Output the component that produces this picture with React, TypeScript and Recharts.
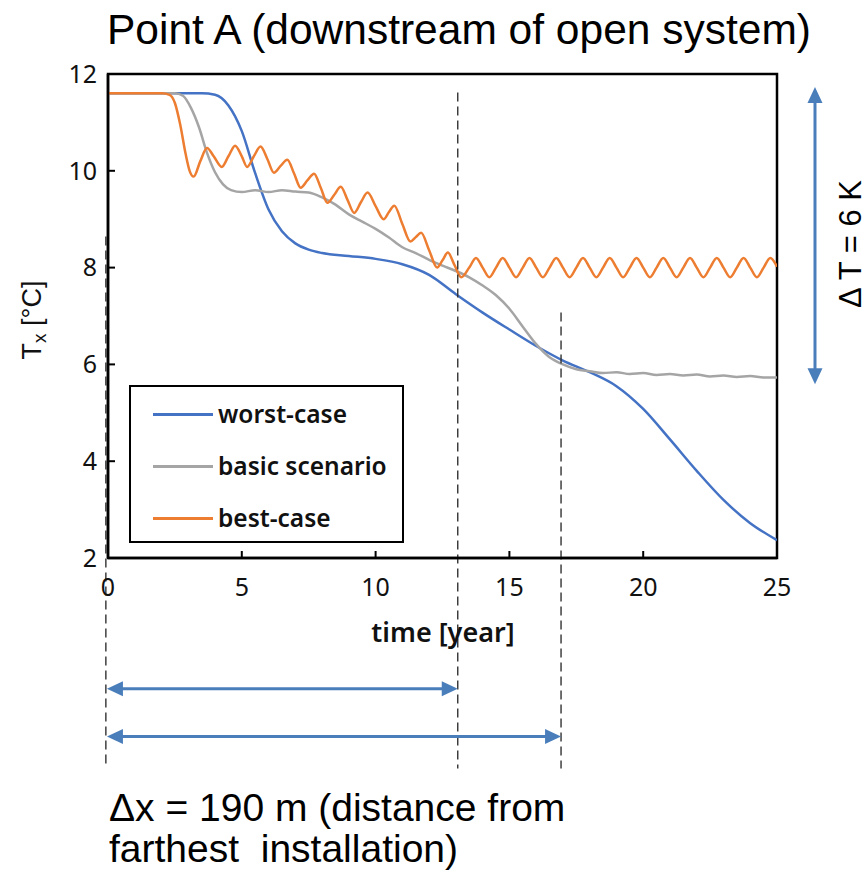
import { LineChart, Line, XAxis, YAxis, ReferenceArea, ReferenceLine } from 'recharts'

// [time in years, temperature in °C]
const worstCase: [number, number][] = [
  [0, 11.6], [3.5, 11.6], [4.0, 11.57], [4.5, 11.35], [5.0, 10.82], [5.5, 9.95],
  [6.0, 9.2], [6.5, 8.75], [7.0, 8.5], [7.5, 8.37], [8.0, 8.3], [9.0, 8.24],
  [10.0, 8.18], [11.0, 8.07], [12.0, 7.85], [13.0, 7.45], [14.0, 7.07], [15.0, 6.72],
  [16.0, 6.38], [17.0, 6.08], [18.0, 5.84], [19.0, 5.55], [20.0, 5.08], [21.0, 4.45],
  [22.0, 3.8], [23.0, 3.2], [24.0, 2.72], [25.0, 2.37],
]

const basicScenario: [number, number][] = [
  [0, 11.6], [2.5, 11.6], [2.8, 11.55], [3.1, 11.3], [3.4, 10.9], [3.7, 10.37],
  [4.0, 9.97], [4.3, 9.72], [4.6, 9.6], [5.0, 9.56], [5.5, 9.6], [6.0, 9.56],
  [6.5, 9.6], [7.0, 9.57], [7.5, 9.55], [8.0, 9.45], [8.5, 9.3], [9.0, 9.1],
  [9.5, 8.95], [10.0, 8.8], [10.5, 8.62], [11.0, 8.42], [11.5, 8.3], [12.0, 8.16],
  [12.5, 8.04], [13.0, 7.93], [13.5, 7.8], [14.0, 7.63], [14.5, 7.43], [15.0, 7.15],
  [15.5, 6.78], [16.0, 6.42], [16.5, 6.15], [17.0, 6.0], [17.5, 5.9], [18.0, 5.86],
  [18.5, 5.82], [19.0, 5.84], [19.5, 5.8], [20.0, 5.82], [20.5, 5.78], [21.0, 5.8],
  [21.5, 5.77], [22.0, 5.79], [22.5, 5.75], [23.0, 5.77], [23.5, 5.74], [24.0, 5.76],
  [24.5, 5.73], [25.0, 5.73],
]

const bestCase: [number, number][] = [
  [0, 11.6], [2.0, 11.6], [2.3, 11.57], [2.5, 11.4], [2.7, 10.95], [2.9, 10.35],
  [3.05, 10.0], [3.2, 9.88], [3.45, 10.2], [3.7, 10.47], [3.95, 10.3], [4.25, 10.08],
  [4.5, 10.3], [4.75, 10.52], [5.0, 10.3], [5.2, 10.08], [5.45, 10.3], [5.7, 10.5],
  [5.95, 10.25], [6.2, 9.96], [6.45, 10.1], [6.7, 10.23], [6.95, 9.95], [7.2, 9.65],
  [7.45, 9.8], [7.7, 9.94], [7.95, 9.65], [8.2, 9.34], [8.45, 9.5], [8.7, 9.67],
  [8.95, 9.4], [9.2, 9.13], [9.45, 9.35], [9.7, 9.55], [10.0, 9.27], [10.3, 9.0],
  [10.5, 9.15], [10.7, 9.28], [11.0, 8.9], [11.3, 8.54], [11.5, 8.63], [11.7, 8.72],
  [12.0, 8.36], [12.3, 8.0], [12.5, 8.15], [12.7, 8.31], [12.95, 8.05], [13.2, 7.8],
  [13.5, 8.0], [13.75, 8.2], [14.0, 8.0], [14.25, 7.8], [14.5, 8.0], [14.75, 8.2],
  [15.0, 8.0], [15.25, 7.8], [15.5, 8.0], [15.75, 8.2], [16.0, 8.0], [16.25, 7.8],
  [16.5, 8.0], [16.75, 8.2], [17.0, 8.0], [17.25, 7.8], [17.5, 8.0], [17.75, 8.2],
  [18.0, 8.0], [18.25, 7.8], [18.5, 8.0], [18.75, 8.2], [19.0, 8.0], [19.25, 7.8],
  [19.5, 8.0], [19.75, 8.2], [20.0, 8.0], [20.25, 7.8], [20.5, 8.0], [20.75, 8.2],
  [21.0, 8.0], [21.25, 7.8], [21.5, 8.0], [21.75, 8.2], [22.0, 8.0], [22.25, 7.8],
  [22.5, 8.0], [22.75, 8.2], [23.0, 8.0], [23.25, 7.8], [23.5, 8.0], [23.75, 8.2],
  [24.0, 8.0], [24.25, 7.8], [24.5, 8.0], [24.75, 8.2], [25.0, 8.02],
]

const xTicks = [0, 5, 10, 15, 20, 25]
const yTicks = [2, 4, 6, 8, 10, 12]

// annotation lines (data units)
const dashedX = [-0.08, 13.07, 16.93]
const dashedTop = [8.64, 11.62, 7.07]
const dashedBottom = -2.35
const spanArrowY = [-0.7, -1.69]
const spanArrowEnd = [13.07, 16.93]
const deltaTX = 26.42
const deltaTRange = [11.73, 5.59]

const BLUE = '#4472C4'
const GRAY = '#A5A5A5'
const ORANGE = '#ED7D31'
const ARROW = '#4A7EBB'

const legendItems = [
  { label: 'worst-case', color: BLUE },
  { label: 'basic scenario', color: GRAY },
  { label: 'best-case', color: ORANGE },
]

const toPoints = (pairs: [number, number][]) => pairs.map(([t, T]) => ({ t, T }))

const tickFont = { fill: '#111', fontSize: 25, fontFamily: '"Noto Sans", sans-serif' }

function ArrowShape(props: any) {
  const { x1, y1, x2, y2 } = props
  const dx = x2 - x1
  const dy = y2 - y1
  const len = Math.hypot(dx, dy) || 1
  const ux = dx / len
  const uy = dy / len
  const head = 16
  const half = 7.5
  const head1 = `${x1},${y1} ${x1 + ux * head - uy * half},${y1 + uy * head + ux * half} ${x1 + ux * head + uy * half},${y1 + uy * head - ux * half}`
  const head2 = `${x2},${y2} ${x2 - ux * head - uy * half},${y2 - uy * head + ux * half} ${x2 - ux * head + uy * half},${y2 - uy * head - ux * half}`
  return (
    <g>
      <line
        x1={x1 + ux * (head - 2)} y1={y1 + uy * (head - 2)}
        x2={x2 - ux * (head - 2)} y2={y2 - uy * (head - 2)}
        stroke={ARROW} strokeWidth={3}
      />
      <polygon points={head1} fill={ARROW} />
      <polygon points={head2} fill={ARROW} />
    </g>
  )
}

export default function App() {
  return (
    <div style={{ position: 'absolute', left: 0, top: 0, width: 867, height: 873, background: '#fff' }}>
      <LineChart width={867} height={873} margin={{ top: 74, right: 90, bottom: 275, left: 48 }}>
        <XAxis
          type="number"
          dataKey="t"
          domain={[0, 25]}
          ticks={xTicks}
          interval={0}
          allowDataOverflow
          height={40}
          axisLine={{ stroke: '#000', strokeWidth: 2.5 }}
          tickLine={{ stroke: '#000', strokeWidth: 2 }}
          tickSize={-7}
          tickMargin={27}
          tick={tickFont}
        />
        <YAxis
          type="number"
          domain={[2, 12]}
          ticks={yTicks}
          interval={0}
          allowDataOverflow
          width={60}
          axisLine={{ stroke: '#000', strokeWidth: 2.5 }}
          tickLine={{ stroke: '#000', strokeWidth: 2 }}
          tickSize={-7}
          tickMargin={18}
          tick={tickFont}
        />
        <ReferenceArea x1={0} x2={25} y1={2} y2={12} fill="none" fillOpacity={0} stroke="#000" strokeWidth={2.5} />

        <Line data={toPoints(worstCase)} dataKey="T" type="monotone" stroke={BLUE} strokeWidth={2.5} dot={false} isAnimationActive={false} />
        <Line data={toPoints(basicScenario)} dataKey="T" type="monotone" stroke={GRAY} strokeWidth={2.5} dot={false} isAnimationActive={false} />
        <Line data={toPoints(bestCase)} dataKey="T" type="monotone" stroke={ORANGE} strokeWidth={2.5} dot={false} isAnimationActive={false} />

        {dashedX.map((x, i) => (
          <ReferenceLine
            key={`d${i}`}
            segment={[{ x, y: dashedTop[i] }, { x, y: dashedBottom }]}
            stroke="#333"
            strokeWidth={1.4}
            strokeDasharray="9 5"
            ifOverflow="visible"
          />
        ))}
        {spanArrowY.map((y, i) => (
          <ReferenceLine
            key={`a${i}`}
            segment={[{ x: -0.04, y }, { x: spanArrowEnd[i], y }]}
            ifOverflow="visible"
            shape={ArrowShape}
          />
        ))}
        <ReferenceLine
          segment={[{ x: deltaTX, y: deltaTRange[0] }, { x: deltaTX, y: deltaTRange[1] }]}
          ifOverflow="visible"
          shape={ArrowShape}
        />
      </LineChart>

      <svg width={867} height={873} style={{ position: 'absolute', left: 0, top: 0, pointerEvents: 'none' }}>
        <text x={459} y={44} textAnchor="middle" fontSize={42.5} fontFamily='"Liberation Sans", Arial, sans-serif' fill="#000">
          Point A (downstream of open system)
        </text>
        <text transform="translate(41,320) rotate(-90)" textAnchor="middle" fontSize={27} fontFamily='"Liberation Sans", Arial, sans-serif' fill="#111">
          T<tspan dy={5} fontSize={19}>x</tspan><tspan dy={-5}> [°C]</tspan>
        </text>
        <text x={443} y={642} textAnchor="middle" fontSize={27} fontWeight={600} fontFamily='"Noto Sans", sans-serif' fill="#111">
          time [year]
        </text>
        <text transform="translate(861,244) rotate(-90)" textAnchor="middle" fontSize={31} fontFamily='"Liberation Sans", Arial, sans-serif' fill="#000">
          Δ T = 6 K
        </text>
        <text x={109} y={821} fontSize={39} fontFamily='"Liberation Sans", Arial, sans-serif' fill="#000">
          Δx = 190 m (distance from
        </text>
        <text x={109} y={862} fontSize={39} fontFamily='"Liberation Sans", Arial, sans-serif' fill="#000" style={{ whiteSpace: 'pre' }}>
          {'farthest  installation)'}
        </text>
      </svg>

      <div
        style={{
          position: 'absolute', left: 129, top: 385, width: 275, height: 158, boxSizing: 'border-box',
          border: '2.5px solid #000', background: '#fff',
          fontFamily: '"Noto Sans", sans-serif', fontSize: 24.5, fontWeight: 600, color: '#111',
        }}
      >
        {legendItems.map((item, i) => (
          <div key={item.label} style={{ position: 'absolute', left: 22, top: 10 + i * 52, height: 34, display: 'flex', alignItems: 'center' }}>
            <div style={{ width: 60, height: 3, background: item.color, marginRight: 5 }} />
            <span style={{ lineHeight: '34px' }}>{item.label}</span>
          </div>
        ))}
      </div>
    </div>
  )
}
